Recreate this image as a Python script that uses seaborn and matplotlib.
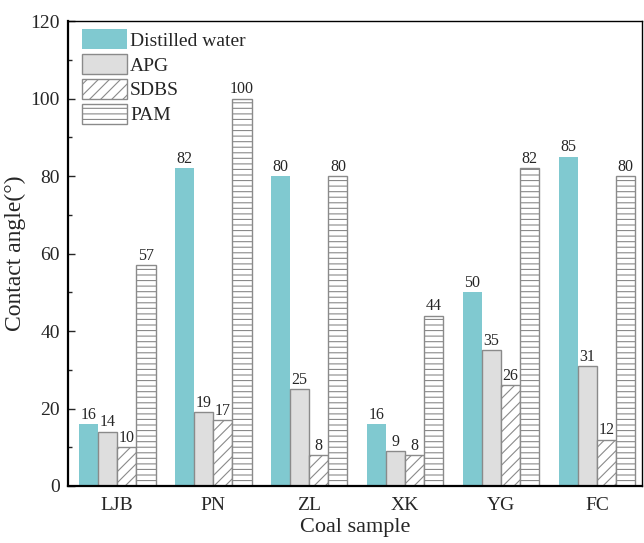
import matplotlib
matplotlib.use("Agg")
import matplotlib.pyplot as plt
import seaborn as sns
import pandas as pd
from matplotlib.ticker import MultipleLocator

samples = ["LJB", "PN", "ZL", "XK", "YG", "FC"]
series = ["Distilled water", "APG", "SDBS", "PAM"]
distilled_water = [16, 82, 80, 16, 50, 85]
apg = [14, 19, 25, 9, 35, 31]
sdbs = [10, 17, 8, 8, 26, 12]
pam = [57, 100, 80, 44, 82, 80]

values = [distilled_water, apg, sdbs, pam]
df = pd.DataFrame(
    [(s, name, v) for name, vals in zip(series, values) for s, v in zip(samples, vals)],
    columns=["sample", "reagent", "angle"],
)

sns.set_theme(style="white")
plt.rcParams["font.family"] = ["Liberation Serif", "DejaVu Serif"]
plt.rcParams["hatch.color"] = "#8a8a8a"
plt.rcParams["hatch.linewidth"] = 0.8

fig = plt.figure(figsize=(6.44, 5.43), dpi=100)
ax = fig.add_axes([0.106, 0.105, 0.891, 0.856])

palette = ["#80C9D0", "#DEDEDE", "#FFFFFF", "#FFFFFF"]
sns.barplot(data=df, x="sample", y="angle", hue="reagent", hue_order=series,
            order=samples, palette=palette, width=0.8, saturation=1,
            ax=ax, legend=False)

hatches = [None, None, "///", "---"]
edges = ["none", "#8a8a8a", "#8a8a8a", "#8a8a8a"]
for cont, name, h, ec in zip(ax.containers, series, hatches, edges):
    cont.set_label(name)
    for p in cont.patches:
        p.set_edgecolor(ec)
        p.set_linewidth(1.0)
        if h:
            p.set_hatch(h)
    ax.bar_label(cont, fmt="%d", padding=1, fontsize=11.5)

ax.set_xlim(-0.51, 5.47)
ax.set_ylim(0, 120)
ax.yaxis.set_major_locator(MultipleLocator(20))
ax.yaxis.set_minor_locator(MultipleLocator(10))
ax.tick_params(axis="y", which="major", direction="in", length=5, width=1,
               labelsize=14, left=True, pad=6)
ax.tick_params(axis="y", which="minor", direction="in", length=3, width=1, left=True)
ax.tick_params(axis="x", length=0, labelsize=14, pad=8)
ax.set_xlabel("Coal sample", fontsize=16, labelpad=3)
ax.set_ylabel("Contact angle(°)", fontsize=17, labelpad=3)

for side, sp in ax.spines.items():
    sp.set_visible(True)
    sp.set_color("black")
    sp.set_linewidth(1.0)
ax.spines["bottom"].set_linewidth(1.6)
ax.spines["left"].set_linewidth(1.6)

ax_w = 0.891 * 644
ax_h = 0.856 * 543
ax.legend(loc="upper left", frameon=False, fontsize=14, handlelength=2.3,
          handleheight=1.2, handletextpad=0.15, labelspacing=0.22,
          borderaxespad=0, borderpad=0,
          bbox_to_anchor=(14 / ax_w, 1 - 8 / ax_h))

fig.savefig("out.png", dpi=100)
